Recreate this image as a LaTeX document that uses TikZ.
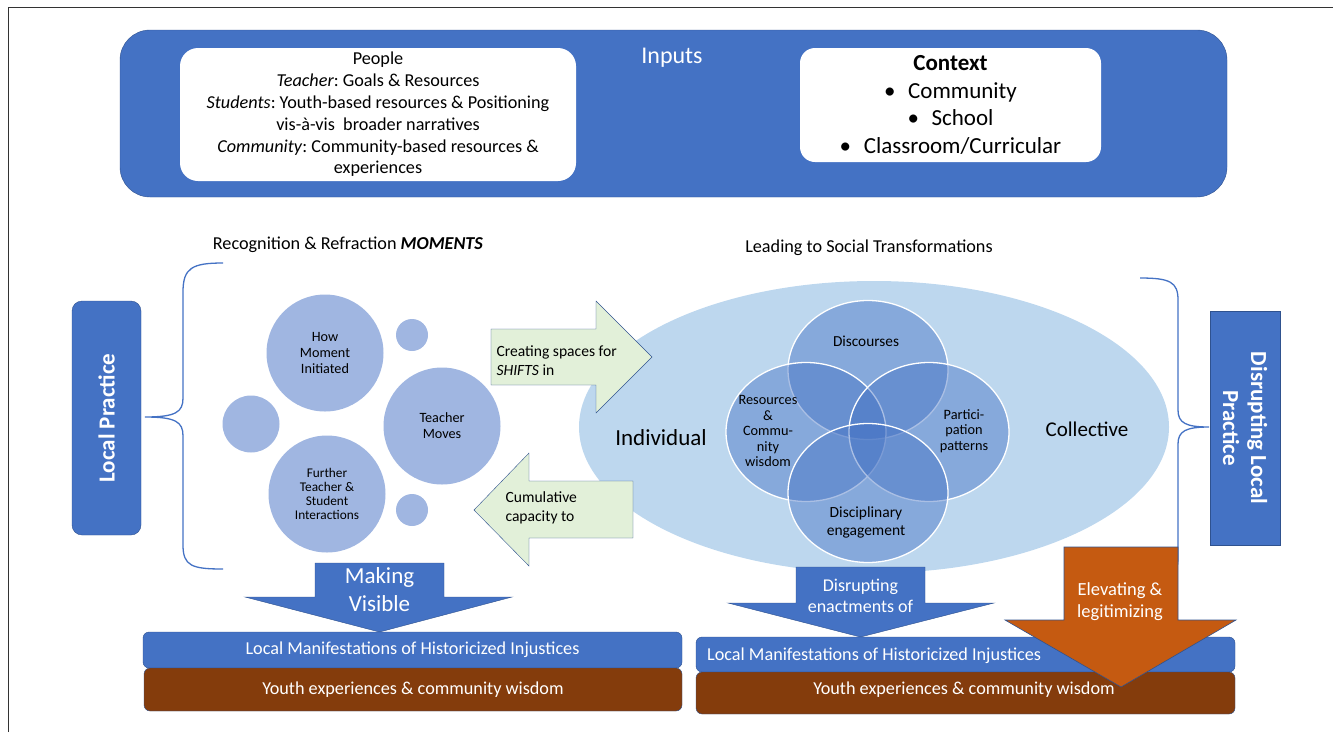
\documentclass[tikz,border=0pt]{standalone}
\usepackage{fontspec}
\setmainfont{Carlito}
\usetikzlibrary{shapes.geometric}
\frenchspacing

\definecolor{inblue}{RGB}{68,114,196}
\definecolor{edgeblue}{RGB}{47,82,143}
\definecolor{momentblue}{RGB}{160,182,225}
\definecolor{ovalblue}{RGB}{189,215,238}
\definecolor{shiftgreen}{RGB}{226,240,217}
\definecolor{wisdombrown}{RGB}{132,60,12}
\definecolor{elevorange}{RGB}{197,90,17}

\tikzset{
  moment/.style={circle,fill=momentblue,inner sep=0pt,align=center,font=\fontsize{14.2}{16}\selectfont},
  facet/.style={ellipse,draw=white,line width=1.3pt,fill=inblue,fill opacity=0.45,minimum width=160pt,minimum height=139pt},
  facettext/.style={align=center,font=\fontsize{14.3}{15.5}\selectfont},
  bar/.style={rounded corners=6pt,draw=edgeblue,text=white,font=\fontsize{18.2}{21}\selectfont},
  brace/.style={draw=inblue,line width=1.3pt},
}

\begin{document}
\begin{tikzpicture}[x=1pt,y=-1pt]
\useasboundingbox (0,0) rectangle (1333,732);
\draw[line width=1pt,color=black!80] (8,732) -- (8,7) -- (1333,7);

% inputs
\filldraw[fill=inblue,draw=edgeblue,rounded corners=30pt] (120,30) rectangle (1227,197);
\node[text=white,font=\fontsize{24}{28}\selectfont] (inputs) at (672,58) {Inputs};
\node[fill=white,rounded corners=18pt,minimum width=396pt,minimum height=133pt,align=center,
  font=\fontsize{18.2}{21.8}\selectfont] (people) at (378,114.5)
  {People\\\textit{Teacher}: Goals \& Resources\\\textit{Students}: Youth-based resources \& Positioning\\vis-à-vis\ \ broader narratives\\\textit{Community}: Community-based resources \&\\experiences};
\node[fill=white,rounded corners=15pt,minimum width=301pt,minimum height=114pt,align=center,
  font=\fontsize{23}{27.5}\selectfont] (context) at (950.5,105)
  {\textbf{Context}\\\textbullet\hspace{0.55em}Community\\\textbullet\hspace{0.55em}School\\\textbullet\hspace{0.55em}Classroom/Curricular};

% titles
\node[font=\fontsize{18.2}{21}\selectfont] (momtitle) at (348,245) {Recognition \& Refraction \textbf{\textit{MOMENTS}}};
\node[font=\fontsize{18.2}{21}\selectfont] (leadtitle) at (869,248) {Leading to Social Transformations};

% local practice
\draw[brace] (223,263) .. controls (192,263) and (183,268) .. (183,292) -- (183,398)
  .. controls (183,412) and (176,417) .. (145,417) .. controls (176,417) and (183,422) .. (183,436)
  -- (183,545) .. controls (183,566) and (192,569) .. (223,569);
\node[rotate=90,fill=inblue,draw=edgeblue,rounded corners=10pt,minimum width=234pt,minimum height=69pt,
  text=white,font=\bfseries\fontsize{23}{27}\selectfont] (local) at (106.5,418) {Local Practice};

% moments
\node[moment,minimum size=117pt] (initiated) at (325,353) {How\\Moment\\Initiated};
\node[moment,minimum size=32pt] (dotA) at (412,335) {};
\node[moment,minimum size=57pt] (dotB) at (251,424) {};
\node[moment,minimum size=117pt] (moves) at (442,426) {Teacher\\Moves};
\node[moment,minimum size=117pt,font=\fontsize{13.3}{14}\selectfont] (further) at (327,494) {Further\\Teacher \&\\Student\\Interactions};
\node[moment,minimum size=32pt] (dotC) at (412,510) {};

% transformations
\node[ellipse,fill=ovalblue,minimum width=590pt,minimum height=292pt] (oval) at (874,427) {};
\node[facet] (disc) at (868,370) {};
\node[facet] (res) at (806,432) {};
\node[facet] (part) at (929,432) {};
\node[facet] (engage) at (868,493) {};
\node[facettext,font=\fontsize{15.3}{18}\selectfont] (disctext) at (866,341) {Discourses};
\node[facettext] (restext) at (768,431) {Resources\\\&\\Commu-\\nity\\wisdom};
\node[facettext] (parttext) at (964,431) {Partici-\\pation\\patterns};
\node[facettext,font=\fontsize{15.5}{18}\selectfont] (engtext) at (866,522) {Disciplinary\\engagement};
\node[font=\fontsize{23}{27}\selectfont] (indiv) at (661,438) {Individual};
\node[font=\fontsize{21}{25}\selectfont] (collect) at (1087,429) {Collective};

% shifts
\filldraw[fill=shiftgreen,draw=edgeblue] (491,329) -- (596,329) -- (596,301) -- (652,357) -- (596,413) -- (596,385) -- (491,385) -- cycle;
\node[anchor=west,align=left,font=\fontsize{15.6}{19}\selectfont] (shifts) at (493,361) {Creating spaces for\\\textit{SHIFTS} in};
\filldraw[fill=shiftgreen,draw=edgeblue] (633,481) -- (529,481) -- (529,453) -- (474,510) -- (529,566) -- (529,538) -- (633,538) -- cycle;
\node[anchor=west,align=left,font=\fontsize{15.6}{19}\selectfont] (cumul) at (502,508) {Cumulative\\capacity to};

% disrupting local practice
\draw[brace] (1140,278) .. controls (1170,278) and (1178,282) .. (1178,300) -- (1178,410)
  .. controls (1178,423) and (1186,427) .. (1209,427) .. controls (1186,427) and (1178,431) .. (1178,444)
  -- (1178,560) .. controls (1178,572) and (1170,575) .. (1140,575);
\node[rotate=-90,fill=inblue,draw=edgeblue,minimum width=234pt,minimum height=70pt,align=center,
  text=white,font=\bfseries\fontsize{23}{28}\selectfont] (disrupt) at (1245,428) {Disrupting Local\\Practice};

% lower left
\filldraw[fill=inblue,draw=edgeblue] (315,563) -- (444,563) -- (444,597) -- (512,597) -- (379.5,632) -- (245,597) -- (315,597) -- cycle;
\node[text=white,align=center,font=\fontsize{23}{28}\selectfont] (visible) at (379.5,590) {Making\\Visible};
\node[bar,fill=inblue,minimum width=539pt,minimum height=36pt] (injustA) at (412.5,650) {Local Manifestations of Historicized Injustices};
\node[bar,fill=wisdombrown,minimum width=538pt,minimum height=43pt] (wisdomA) at (413,689.5) {Youth experiences \& community wisdom};

% lower right
\filldraw[fill=inblue,draw=edgeblue] (796,567) -- (925,567) -- (925,603) -- (994,603) -- (860.5,637) -- (728,603) -- (796,603) -- cycle;
\node[text=white,align=center,font=\fontsize{18}{21}\selectfont] (enact) at (860.5,596) {Disrupting\\enactments of};
\node[bar,fill=inblue,minimum width=539pt,minimum height=35pt] (injustB) at (965.5,654.5) {};
\node[anchor=west,text=white,font=\fontsize{18.2}{21}\selectfont,inner sep=0pt] (injustBtext) at (707,656) {Local Manifestations of Historicized Injustices};
\node[bar,fill=wisdombrown,minimum width=539pt,minimum height=42pt] (wisdomB) at (965.5,693) {};
\filldraw[fill=elevorange,draw=edgeblue,line width=0.6pt] (1064,547) -- (1178,547) -- (1178,620) -- (1236,620) -- (1121,687) -- (1005,620) -- (1064,620) -- cycle;
\node[text=white,align=center,font=\fontsize{18.5}{22}\selectfont] (elevate) at (1120,602) {Elevating \&\\legitimizing};
\node[text=white,font=\fontsize{18.2}{21}\selectfont] (wisdomBtext) at (964,690) {Youth experiences \& community wisdom};
\end{tikzpicture}
\end{document}
